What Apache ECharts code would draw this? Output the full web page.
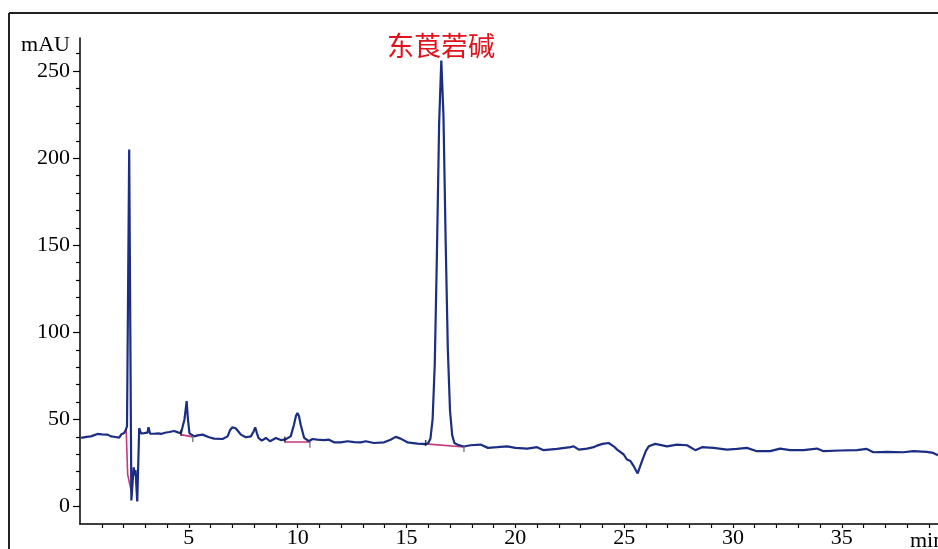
<!DOCTYPE html>
<html>
<head>
<meta charset="utf-8">
<script src="https://cdn.jsdelivr.net/npm/echarts@6/dist/echarts.min.js"></script>
<style>
html,body{margin:0;padding:0;background:#fff;}
#c{width:938px;height:549px;}
</style>
</head>
<body>
<div id="c"></div>
<script>
// Retention time (min)
var times = [0.05,0.3,0.5,0.8,1.0,1.27,1.42,1.56,1.8,1.9,2.03,2.1,2.16,
  2.19,2.26,2.36,2.44,2.47,2.51,2.55,2.63,2.72,2.8,2.95,3.1,3.15,3.22,3.4,3.6,3.72,3.9,4.1,4.33,4.5,4.64,
  4.72,4.8,4.9,4.96,5.03,5.25,5.4,5.63,5.93,6.16,6.55,6.78,6.9,7.0,7.15,7.25,7.39,7.62,7.85,7.97,8.05,8.13,8.2,8.35,8.54,8.73,9.0,9.22,9.41,
  9.68,9.83,9.92,9.99,10.06,10.14,10.3,10.52,10.68,10.9,11.2,11.44,11.67,11.98,12.29,12.6,12.9,13.13,13.5,13.97,14.27,14.5,14.73,15.04,15.5,15.88,
  16.0,16.1,16.2,16.3,16.4,16.5,16.6,16.7,16.8,16.9,17.0,17.1,17.2,17.35,17.64,17.94,18.4,18.74,19.17,19.63,20.0,20.55,21.0,21.3,21.92,22.53,22.68,22.92,23.3,23.6,23.76,24.0,24.29,24.52,24.68,24.98,25.13,25.29,25.44,25.62,25.82,26.0,26.13,26.43,26.97,27.43,27.89,28.27,28.58,29.11,29.72,30.18,30.64,31.1,31.71,32.17,32.63,33.24,33.86,34.16,34.92,35.69,36.15,36.45,37.07,37.83,38.29,38.9,39.2,39.42];
// Absorbance (mAU)
var absorbance = [39.4,40,40.3,41.7,41.5,41.3,40.3,40.1,39.6,41.5,42.2,44,46,
  47,205,3.5,18,22.5,18,21,3,45,42,42.2,42.5,45.5,41.8,41.8,42,41.7,42.4,42.8,43.4,42.6,42.2,
  43,50,60.5,50,42,40.3,40.9,41.3,39.8,39,38.8,40.3,44,45.5,45,43.5,41.3,39.8,40.3,43,45.5,42,39.4,37.9,39.4,37.5,39.4,38.2,38.4,
  40.3,47,52,53.7,52,47,39.4,37.5,38.8,38.4,38.2,38.4,36.9,36.9,37.5,37,36.9,37.5,36.5,36.9,38.4,40,39,36.9,36.1,35.8,
  36.5,39,50,82,146,220,256,224,152,90,55,41,36.5,35.5,34.5,35.2,35.6,33.7,34.1,34.6,33.7,33.3,34.1,32.4,33.1,34.1,34.6,32.7,33.3,34.1,35,36,36.5,34.6,32.7,29.9,27,26.1,23.2,19,26.1,32,34.6,36,34.6,35.6,35.2,32.4,34.1,33.7,32.7,33.1,33.7,31.8,31.8,33.3,32.4,32.4,33.3,31.8,32.2,32.4,33.1,31.2,31.4,31.2,31.8,31.4,30.8,29.5];

// Integration baselines
var base1 = [[2.12,44.7],[2.19,18.4],[2.39,6.7]];
var base2 = [[4.64,41.3],[5.18,40]];
var base3 = [[9.41,37.1],[10.56,37.1]];
var base4 = [[15.88,36],[17.64,34.2]];
// Integration start / end marks
var peakStarts = [[4.64,42.3],[9.41,38.5],[15.88,36.5]];
var peakEnds = [[5.18,38.8],[10.56,35.5],[17.64,33.1]];

// Axis ticks / labels
var yLabelValues = [0,50,100,150,200,250];
var yMinorTicks = [10,20,30,40,60,70,80,90,110,120,130,140,160,170,180,190,210,220,230,240,260];
var xLabelValues = [5,10,15,20,25,30,35];
var xTicks = [1,2,3,4,5,6,7,8,9,10,11,12,13,14,15,16,17,18,19,20,21,22,23,24,25,26,27,28,29,30,31,32,33,34,35,36,37,38,39];

var peakName = '东莨菪碱';

var chrom = times.map(function(t,i){return [t, absorbance[i]];});

var serif = '"Liberation Serif", "Times New Roman", serif';
var chart = echarts.init(document.getElementById('c'), null, {renderer:'canvas'});
var pink = '#c8367e';
var blue = '#1c2d84';
function baseSeries(d){
  return {type:'line', data:d, showSymbol:false, silent:true, animation:false,
    lineStyle:{color:pink, width:1.6}, itemStyle:{color:pink}, z:4};
}
chart.setOption({
  backgroundColor:'#fff',
  animation:false,
  grid:{left:80, right:0, top:38, bottom:22, containLabel:false},
  xAxis:{
    type:'value', min:0, max:39.42,
    axisLine:{show:true, onZero:false, lineStyle:{color:'#000', width:1.5}},
    axisTick:{show:true, customValues:xTicks, length:4, inside:false, lineStyle:{color:'#000', width:1.2}},
    axisLabel:{show:true, customValues:xLabelValues, fontSize:22, fontFamily:serif, color:'#000', margin:3},
    splitLine:{show:false}
  },
  yAxis:[{
    type:'value', min:-10, max:269, position:'left',
    axisLine:{show:true, onZero:false, lineStyle:{color:'#000', width:1.5}},
    axisTick:{show:true, customValues:yLabelValues, length:7, lineStyle:{color:'#000', width:1.2}},
    axisLabel:{show:true, customValues:yLabelValues, fontSize:22, fontFamily:serif, color:'#000', margin:10},
    splitLine:{show:false}
  },{
    type:'value', min:-10, max:269, position:'left',
    axisLine:{show:false, onZero:false},
    axisTick:{show:true, customValues:yMinorTicks, length:4, lineStyle:{color:'#000', width:1.2}},
    axisLabel:{show:false},
    splitLine:{show:false}
  }],
  series:[
    {type:'line', data:chrom, showSymbol:false, silent:true, animation:false,
     lineStyle:{color:blue, width:2.2}, itemStyle:{color:blue}, z:5},
    baseSeries(base1), baseSeries(base2), baseSeries(base3), baseSeries(base4),
    {type:'scatter', data:peakStarts, symbol:'rect', symbolSize:[1.5,6], itemStyle:{color:'#111'}, z:6, silent:true},
    {type:'scatter', data:peakEnds, symbol:'rect', symbolSize:[1.5,6], itemStyle:{color:'#666'}, z:6, silent:true}
  ],
  graphic:[
    {type:'line', shape:{x1:9,y1:13,x2:938,y2:13}, style:{stroke:'#222', lineWidth:2}, silent:true},
    {type:'line', shape:{x1:9,y1:13,x2:9,y2:549}, style:{stroke:'#222', lineWidth:2}, silent:true},
    {type:'text', x:70, y:45, style:{text:'mAU', font:'22px '+serif, fill:'#000', textAlign:'right', textVerticalAlign:'middle'}},
    {type:'text', x:910, y:530, style:{text:'min', font:'22px '+serif, fill:'#000', textAlign:'left', textVerticalAlign:'top'}},
    {type:'text', x:441, y:46, style:{text:peakName, font:'27px "Noto Sans CJK SC", sans-serif', fill:'#e0121c', textAlign:'center', textVerticalAlign:'middle'}}
  ]
});
</script>
</body>
</html>
